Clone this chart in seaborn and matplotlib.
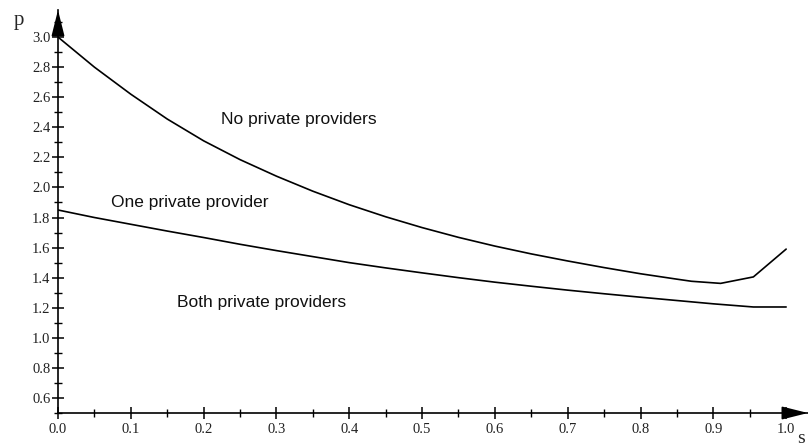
import numpy as np
import pandas as pd
import matplotlib
matplotlib.use("Agg")
import matplotlib.pyplot as plt
from matplotlib.ticker import MultipleLocator, FixedLocator
import seaborn as sns

# Threshold prices p as a function of s
s_none = [0.0, 0.05, 0.10, 0.15, 0.20, 0.25, 0.30, 0.35, 0.40, 0.45, 0.50,
          0.55, 0.60, 0.65, 0.70, 0.75, 0.80, 0.85, 0.87, 0.91, 0.955, 1.0]
p_none = [3.00, 2.80, 2.62, 2.455, 2.31, 2.185, 2.075, 1.975, 1.885, 1.805, 1.733,
          1.668, 1.61, 1.558, 1.511, 1.467, 1.426, 1.39, 1.376, 1.362, 1.405, 1.59]

s_one = [0.0, 0.05, 0.10, 0.15, 0.20, 0.25, 0.30, 0.35, 0.40, 0.45, 0.50,
         0.55, 0.60, 0.65, 0.70, 0.75, 0.80, 0.85, 0.90, 0.955, 1.0]
p_one = [1.85, 1.80, 1.755, 1.71, 1.667, 1.622, 1.58, 1.54, 1.50, 1.465, 1.432,
         1.40, 1.37, 1.343, 1.317, 1.293, 1.27, 1.248, 1.226, 1.205, 1.205]

region_labels = ["No private providers", "One private provider", "Both private providers"]
region_pos = [(0.224, 2.45), (0.073, 1.90), (0.163, 1.235)]

x_ticks = [0.0, 0.1, 0.2, 0.3, 0.4, 0.5, 0.6, 0.7, 0.8, 0.9, 1.0]
y_ticks = [0.6, 0.8, 1.0, 1.2, 1.4, 1.6, 1.8, 2.0, 2.2, 2.4, 2.6, 2.8, 3.0]

df = pd.concat([
    pd.DataFrame({"s": s_none, "p": p_none, "curve": "none"}),
    pd.DataFrame({"s": s_one, "p": p_one, "curve": "one"}),
])

sns.set_style("white")
plt.rcParams["font.family"] = ["Liberation Sans", "DejaVu Sans"]

fig = plt.figure(figsize=(8.08, 4.46), dpi=100)
ax = fig.add_axes([58 / 808, 1 - 413 / 446, 1 - 58 / 808, (413 - 10) / 446])

sns.lineplot(data=df, x="s", y="p", units="curve", estimator=None, sort=False,
             color="black", linewidth=1.2, ax=ax)

ax.set_xlim(0.0, 1.03)
ax.set_ylim(0.5, 3.18)

for side in ("top", "right"):
    ax.spines[side].set_visible(False)
for side in ("left", "bottom"):
    ax.spines[side].set_color("black")
    ax.spines[side].set_linewidth(1.2)

ax.xaxis.set_major_locator(FixedLocator(x_ticks))
ax.xaxis.set_minor_locator(MultipleLocator(0.05))
ax.yaxis.set_major_locator(FixedLocator(y_ticks))
ax.yaxis.set_minor_locator(MultipleLocator(0.1))
ax.set_xticklabels([f"{v:.1f}" for v in x_ticks])
ax.set_yticklabels([f"{v:.1f}" for v in y_ticks])
ax.tick_params(which="both", bottom=True, left=True, top=False, right=False)
ax.tick_params(which="major", direction="inout", length=9, width=1.1, color="black",
               labelsize=10.5, pad=1)
ax.tick_params(which="minor", direction="inout", length=6, width=1.0, color="black")
for lbl in ax.get_xticklabels() + ax.get_yticklabels():
    lbl.set_family(["Liberation Serif", "DejaVu Serif"])
    lbl.set_color("#222222")
ax.tick_params(axis="x", pad=3)
ax.set_xlabel("")
ax.set_ylabel("")

# Arrowheads at the ends of both axes
head = dict(arrowstyle="-|>,head_length=1.6,head_width=0.4", color="black",
            lw=1.2, shrinkA=0, shrinkB=0, mutation_scale=10)
ax.annotate("", xy=(0, 1), xycoords="axes fraction", xytext=(0, -24),
            textcoords="offset pixels", arrowprops=head, annotation_clip=False)
ax.annotate("", xy=(1, 0), xycoords="axes fraction", xytext=(-24, 0),
            textcoords="offset pixels", arrowprops=head, annotation_clip=False)

fig.text(14 / 808, 1 - 20 / 446, "p", family=["Liberation Serif"], fontsize=15,
         ha="left", va="center")
fig.text(797 / 808, 3 / 446, "s", family=["Liberation Serif"], fontsize=14,
         ha="left", va="baseline")

for text, (x, y) in zip(region_labels, region_pos):
    ax.text(x, y, text, fontsize=12.5, color="#111111", ha="left", va="center")

fig.savefig("out.png", dpi=100)
